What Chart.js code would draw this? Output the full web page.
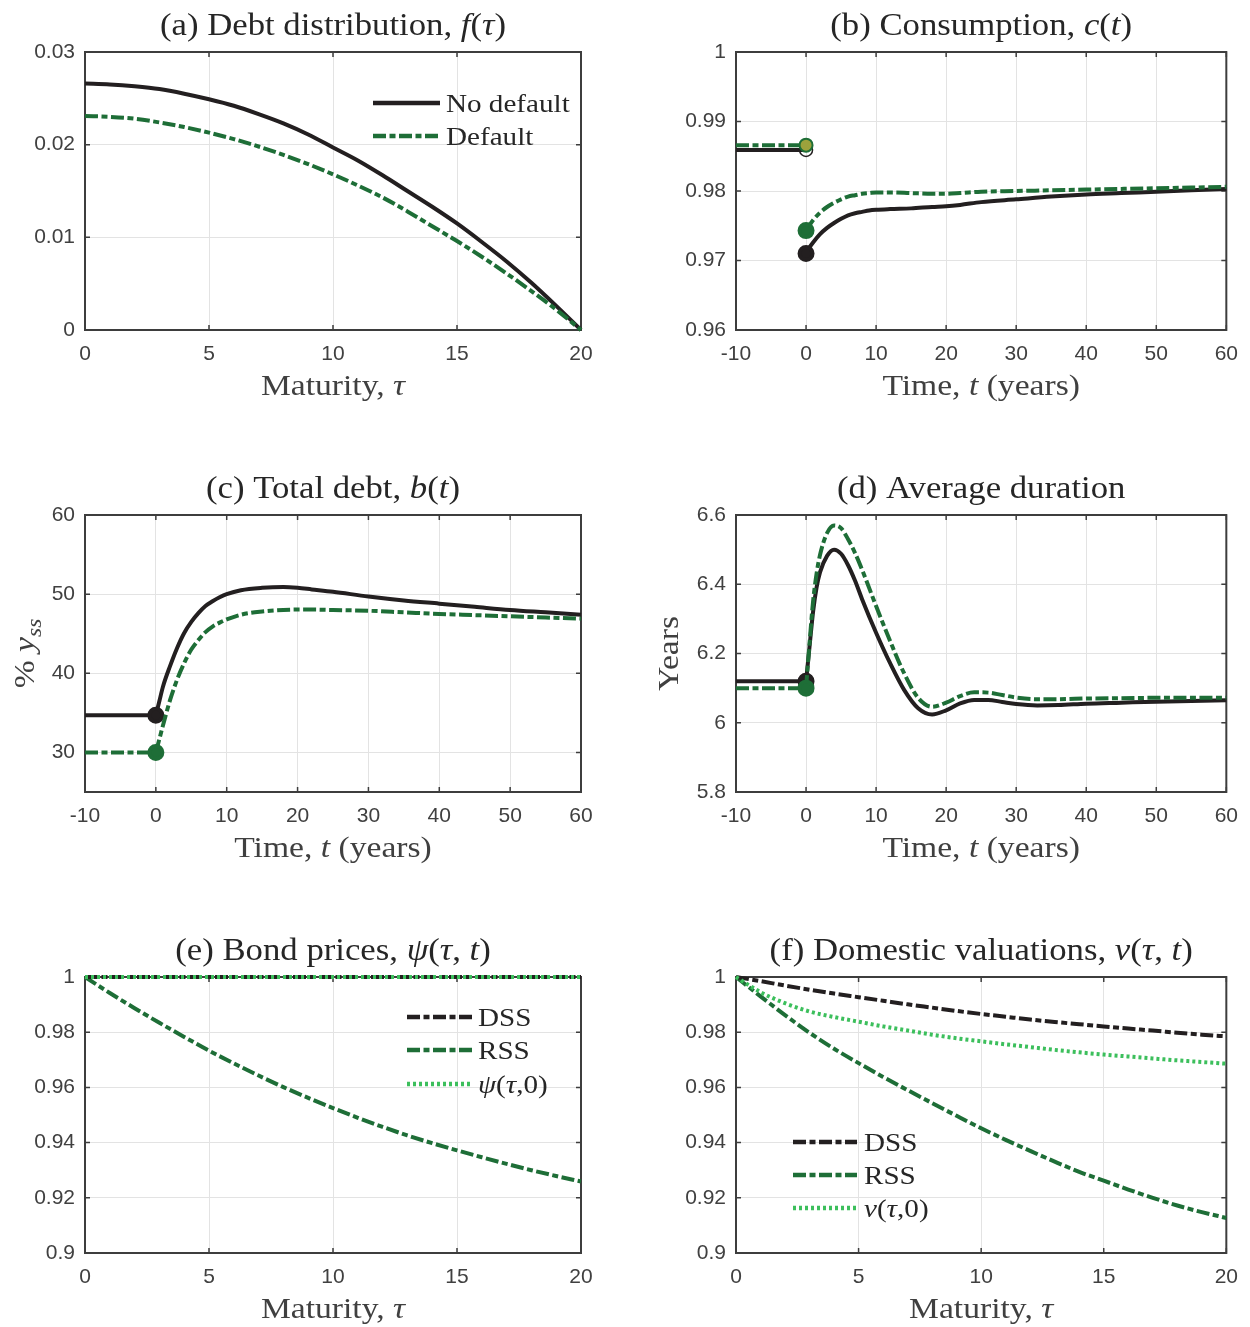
<!DOCTYPE html>
<html>
<head>
<meta charset="utf-8">
<title>Debt maturity panels</title>
<script src="https://cdn.jsdelivr.net/npm/chart.js@4.4.1/dist/chart.umd.min.js"></script>
<style>
  html, body { margin: 0; padding: 0; background: #fff; }
  #wrap { position: relative; width: 1250px; height: 1327px; }
  #wrap canvas { position: absolute; }
</style>
</head>
<body>
<div id="wrap">
  <canvas id="pa" width="625" height="440" style="left:0px;top:0px"></canvas>
  <canvas id="pb" width="625" height="440" style="left:625px;top:0px"></canvas>
  <canvas id="pc" width="625" height="465" style="left:0px;top:440px"></canvas>
  <canvas id="pd" width="625" height="465" style="left:625px;top:440px"></canvas>
  <canvas id="pe" width="625" height="422" style="left:0px;top:905px"></canvas>
  <canvas id="pf" width="625" height="422" style="left:625px;top:905px"></canvas>
</div>
<script>
// --- Datos ---
const tau = [0, 1, 2, 3, 4, 5, 6, 7, 8, 9, 10, 11, 12, 13, 14, 15, 16, 17, 18, 19, 20];
const tauTicks = [0, 5, 10, 15, 20];
const timeTicks = [-10, 0, 10, 20, 30, 40, 50, 60];

// (a) distribucion de deuda f(tau)
const fNoDefault = [0.0266, 0.0265, 0.0263, 0.0260, 0.0255, 0.0249, 0.0242, 0.0233, 0.0223, 0.0211, 0.0197,
                    0.0183, 0.0167, 0.0150, 0.0133, 0.0115, 0.0095, 0.0074, 0.0051, 0.0026, 0.0000];
const fDefault = [0.0231, 0.0230, 0.0228, 0.0224, 0.0219, 0.0213, 0.0206, 0.0198, 0.0189, 0.0179, 0.0168,
                  0.0156, 0.0143, 0.0128, 0.0112, 0.0096, 0.0079, 0.0061, 0.0042, 0.0022, 0.0000];
const yTicksA = [0, 0.01, 0.02, 0.03];

// tiempo antes / despues del choque
const tPre = [-10, 0];
const tPost = [0, 0.5, 1, 2, 3, 4, 5, 6, 7, 8, 9, 10, 12, 15, 18, 20, 22, 25, 30, 35, 40, 45, 50, 55, 60];
const tDur = [0, 0.5, 1, 1.5, 2, 3, 4, 5, 6, 7, 8, 10, 12, 14, 16, 18, 20, 22, 24, 26, 28, 30, 33, 36, 40, 45, 50, 55, 60];

// (b) consumo c(t)
const cPreNoDefault = [0.9859, 0.9859];
const cPreDefault = [0.9866, 0.9866];
const cNoDefault = [0.9710, 0.9719, 0.9726, 0.9738, 0.9747, 0.9754, 0.9760, 0.9765, 0.9768, 0.9770, 0.9772, 0.9773,
                    0.9774, 0.9775, 0.9777, 0.9778, 0.9780, 0.9784, 0.9788, 0.9792, 0.9795, 0.9797, 0.9799, 0.9801, 0.9803];
const cDefault = [0.9743, 0.9751, 0.9758, 0.9769, 0.9777, 0.9783, 0.9788, 0.9792, 0.9794, 0.9796, 0.9797, 0.9798,
                  0.9798, 0.9797, 0.9796, 0.9796, 0.9797, 0.9799, 0.9800, 0.9801, 0.9802, 0.9803, 0.9804, 0.9805, 0.9806];
const yTicksB = [0.96, 0.97, 0.98, 0.99, 1];

// (c) deuda total b(t)
const bPreNoDefault = [34.7, 34.7];
const bPreDefault = [30.0, 30.0];
const bNoDefault = [34.7, 36.5, 38.3, 40.9, 43.2, 45.1, 46.5, 47.6, 48.5, 49.1, 49.6, 50.0,
                    50.5, 50.8, 50.9, 50.8, 50.6, 50.3, 49.7, 49.2, 48.8, 48.4, 48.0, 47.7, 47.4];
const bDefault = [30.0, 31.7, 33.4, 36.6, 39.2, 41.3, 43.0, 44.2, 45.2, 45.9, 46.4, 46.8,
                  47.4, 47.8, 48.0, 48.05, 48.05, 48.0, 47.9, 47.7, 47.5, 47.35, 47.2, 47.05, 46.9];
const yTicksC = [30, 40, 50, 60];

// (d) duracion promedio
const dPreNoDefault = [6.12, 6.12];
const dPreDefault = [6.10, 6.10];
const dNoDefault = [6.120, 6.220, 6.320, 6.390, 6.435, 6.482, 6.500, 6.488, 6.455, 6.410, 6.357, 6.260, 6.172, 6.095, 6.042,
                    6.024, 6.036, 6.056, 6.066, 6.066, 6.060, 6.054, 6.050, 6.051, 6.055, 6.058, 6.061, 6.063, 6.065];
const dDefault = [6.100, 6.230, 6.350, 6.430, 6.485, 6.548, 6.570, 6.562, 6.530, 6.490, 6.442, 6.337, 6.236, 6.143, 6.072,
                  6.046, 6.058, 6.077, 6.088, 6.087, 6.080, 6.073, 6.068, 6.068, 6.070, 6.071, 6.072, 6.072, 6.072];
const yTicksD = [5.8, 6, 6.2, 6.4, 6.6];

// (e) precios de bonos
const psiDSS = [1, 1, 1, 1, 1, 1, 1, 1, 1, 1, 1, 1, 1, 1, 1, 1, 1, 1, 1, 1, 1];
const psiRSS = [1.0000, 0.9942, 0.9887, 0.9834, 0.9783, 0.9733, 0.9687, 0.9643, 0.9601, 0.9562, 0.9525,
                0.9490, 0.9457, 0.9426, 0.9398, 0.9372, 0.9347, 0.9323, 0.9300, 0.9279, 0.9259];
const psi0 = [1, 1, 1, 1, 1, 1, 1, 1, 1, 1, 1, 1, 1, 1, 1, 1, 1, 1, 1, 1, 1];

// (f) valuaciones domesticas
const vDSS = [1.0000, 0.9985, 0.9969, 0.9954, 0.9940, 0.9927, 0.9914, 0.9901, 0.9889, 0.9877, 0.9866,
              0.9856, 0.9846, 0.9837, 0.9829, 0.9821, 0.9813, 0.9806, 0.9798, 0.9791, 0.9785];
const vRSS = [1.0000, 0.9930, 0.9862, 0.9798, 0.9740, 0.9688, 0.9638, 0.9590, 0.9543, 0.9497, 0.9452,
              0.9410, 0.9370, 0.9331, 0.9294, 0.9262, 0.9230, 0.9200, 0.9172, 0.9148, 0.9127];
const v0 = [1.0000, 0.9945, 0.9905, 0.9875, 0.9855, 0.9838, 0.9821, 0.9806, 0.9791, 0.9778, 0.9767,
            0.9756, 0.9746, 0.9736, 0.9727, 0.9719, 0.9712, 0.9705, 0.9698, 0.9692, 0.9686];
const yTicksEF = [0.9, 0.92, 0.94, 0.96, 0.98, 1];

// --- Estilos ---
const BLACK = '#231f20';
const GREEN = '#1e6e37';
const LIGHT = '#3cbf5c';
const OLIVE = '#9ca23c';
const AXIS = '#3d3d3d';
const GRID = '#e3e3e3';
const TITLE_C = '#262626';
const LABEL_C = '#404040';
const DASHDOT = [13, 3.5, 6, 3.5];
const DOTTED = [3, 3];
const SERIF = '"Liberation Serif", "Times New Roman", serif';
const SX = 1.12; // estirar un poco la serif, parecida a Computer Modern

// texto con tramos en cursiva / subindice
function runFont(r, size) {
    const s = r.sub ? size * 0.7 : size;
    return (r.i ? 'italic ' : '') + s + 'px ' + SERIF;
}

function drawRich(ctx, runs, x, y, size, opts) {
    ctx.save();
    ctx.translate(x, y);
    if (opts.rotate) ctx.rotate(opts.rotate);
    ctx.scale(SX, 1);
    ctx.fillStyle = opts.color;
    ctx.textAlign = 'left';
    ctx.textBaseline = 'alphabetic';
    let w = 0;
    runs.forEach(r => { ctx.font = runFont(r, size); w += ctx.measureText(r.t).width; });
    let cx = opts.align === 'left' ? 0 : -w / 2;
    runs.forEach(r => {
        ctx.font = runFont(r, size);
        ctx.fillText(r.t, cx, r.sub ? size * 0.22 : 0);
        cx += ctx.measureText(r.t).width;
    });
    ctx.restore();
}

// caja, ticks hacia adentro, titulos y leyenda
const deco = {
    id: 'deco',
    beforeDatasetsDraw(chart) {
        const { ctx, chartArea: a, scales } = chart;
        ctx.save();
        ctx.strokeStyle = AXIS;
        ctx.lineWidth = 1.5;
        ctx.beginPath();
        scales.x.ticks.forEach(t => {
            const p = scales.x.getPixelForValue(t.value);
            ctx.moveTo(p, a.bottom); ctx.lineTo(p, a.bottom - 5);
            ctx.moveTo(p, a.top); ctx.lineTo(p, a.top + 5);
        });
        scales.y.ticks.forEach(t => {
            const p = scales.y.getPixelForValue(t.value);
            ctx.moveTo(a.left, p); ctx.lineTo(a.left + 5, p);
            ctx.moveTo(a.right, p); ctx.lineTo(a.right - 5, p);
        });
        ctx.stroke();
        ctx.lineWidth = 2;
        ctx.strokeRect(a.left, a.top, a.right - a.left, a.bottom - a.top);
        ctx.restore();
    },
    afterDraw(chart, args, o) {
        const { ctx, chartArea: a } = chart;
        const mid = (a.left + a.right) / 2;
        drawRich(ctx, o.title, mid, a.top - 17, 31, { color: TITLE_C });
        drawRich(ctx, o.xLabel, mid, a.bottom + 65, 30, { color: LABEL_C });
        if (o.yLabel) {
            drawRich(ctx, o.yLabel, a.left - o.yGap, (a.top + a.bottom) / 2, 30,
                     { color: LABEL_C, rotate: -Math.PI / 2 });
        }
        (o.legend || []).forEach(item => {
            const ds = chart.data.datasets[item.ds];
            const y = a.top + item.y;
            ctx.save();
            ctx.strokeStyle = ds.borderColor;
            ctx.lineWidth = 4.5;
            ctx.setLineDash(ds.borderDash || []);
            ctx.beginPath();
            ctx.moveTo(a.left + o.legendX[0], y);
            ctx.lineTo(a.left + o.legendX[1], y);
            ctx.stroke();
            ctx.restore();
            drawRich(ctx, item.text, a.left + o.legendX[2], y + 9, 26, { color: TITLE_C, align: 'left' });
        });
    }
};

function series(xs, ys, color, dash, extra) {
    return Object.assign({
        data: xs.map((x, i) => ({ x: x, y: ys[i] })),
        borderColor: color,
        backgroundColor: color,
        borderWidth: 4,
        borderDash: dash || [],
        borderCapStyle: 'butt',
        pointRadius: 0,
        pointHoverRadius: 0,
        pointHitRadius: 0,
        cubicInterpolationMode: 'monotone',
        clip: 6,
        fill: false
    }, extra || {});
}

const fmt = v => String(+Number(v).toFixed(4));

// box = [izq, arriba, der, abajo] del area de trazado dentro del canvas
function panel(id, box, xr, xTicks, yr, yTicks, datasets, deco_opts) {
    const cv = document.getElementById(id);
    const W = cv.width, H = cv.height;
    const tickFont = { family: '"Liberation Sans", Arial, sans-serif', size: 21 };
    return new Chart(cv, {
        type: 'line',
        data: { datasets: datasets },
        options: {
            responsive: false,
            animation: false,
            devicePixelRatio: 1,
            events: [],
            layout: { padding: { left: 0, top: box[1], right: W - box[2], bottom: 0 } },
            plugins: {
                legend: { display: false },
                tooltip: { enabled: false },
                deco: deco_opts
            },
            scales: {
                x: {
                    type: 'linear', min: xr[0], max: xr[1],
                    afterBuildTicks: s => { s.ticks = xTicks.map(v => ({ value: v })); },
                    afterFit: s => { s.height = H - box[3]; },
                    ticks: { autoSkip: false, maxRotation: 0, minRotation: 0, padding: 12,
                             color: LABEL_C, font: tickFont, callback: fmt },
                    grid: { color: GRID, lineWidth: 1, drawTicks: false },
                    border: { display: false }
                },
                y: {
                    type: 'linear', min: yr[0], max: yr[1],
                    afterBuildTicks: s => { s.ticks = yTicks.map(v => ({ value: v })); },
                    afterFit: s => { s.width = box[0]; },
                    ticks: { autoSkip: false, padding: 10, color: LABEL_C, font: tickFont, callback: fmt },
                    grid: { color: GRID, lineWidth: 1, drawTicks: false },
                    border: { display: false }
                }
            }
        },
        plugins: [deco]
    });
}

const dot = c => (c.dataIndex === 0 ? 6.5 : 0);
const endDot = c => (c.dataIndex === 1 ? 6.5 : 0);

const maturityLabel = [{ t: 'Maturity, ' }, { t: 'τ', i: 1 }];
const timeLabel = [{ t: 'Time, ' }, { t: 't', i: 1 }, { t: ' (years)' }];

// (a)
panel('pa', [85, 52, 581, 330], [0, 20], tauTicks, [0, 0.03], yTicksA, [
    series(tau, fNoDefault, BLACK, null, { label: 'No default', order: 2 }),
    series(tau, fDefault, GREEN, DASHDOT, { label: 'Default', order: 1 })
], {
    title: [{ t: '(a) Debt distribution, ' }, { t: 'f', i: 1 }, { t: '(' }, { t: 'τ', i: 1 }, { t: ')' }],
    xLabel: maturityLabel,
    legendX: [288, 355, 361],
    legend: [
        { ds: 0, y: 51, text: [{ t: 'No default' }] },
        { ds: 1, y: 84, text: [{ t: 'Default' }] }
    ]
});

// (b)
panel('pb', [111, 52, 606, 330], [-10, 60], timeTicks, [0.96, 1], yTicksB, [
    series(tPre, cPreNoDefault, BLACK, null, { order: 4, pointRadius: endDot, pointBorderWidth: 1.5,
        pointBackgroundColor: 'rgba(0,0,0,0)', pointBorderColor: BLACK }),
    series(tPre, cPreDefault, GREEN, DASHDOT, { order: 3, pointRadius: endDot, pointBorderWidth: 2,
        pointBackgroundColor: OLIVE, pointBorderColor: GREEN }),
    series(tPost, cNoDefault, BLACK, null, { order: 2, pointRadius: dot }),
    series(tPost, cDefault, GREEN, DASHDOT, { order: 1, pointRadius: dot })
], {
    title: [{ t: '(b) Consumption, ' }, { t: 'c', i: 1 }, { t: '(' }, { t: 't', i: 1 }, { t: ')' }],
    xLabel: timeLabel
});

// (c)
panel('pc', [85, 75, 581, 352], [-10, 60], timeTicks, [25, 60], yTicksC, [
    series(tPre, bPreNoDefault, BLACK, null, { order: 4 }),
    series(tPre, bPreDefault, GREEN, DASHDOT, { order: 3 }),
    series(tPost, bNoDefault, BLACK, null, { order: 2, pointRadius: dot }),
    series(tPost, bDefault, GREEN, DASHDOT, { order: 1, pointRadius: dot })
], {
    title: [{ t: '(c) Total debt, ' }, { t: 'b', i: 1 }, { t: '(' }, { t: 't', i: 1 }, { t: ')' }],
    xLabel: timeLabel,
    yLabel: [{ t: '% ' }, { t: 'y', i: 1 }, { t: 'ss', i: 1, sub: 1 }],
    yGap: 51
});

// (d)
panel('pd', [111, 75, 606, 352], [-10, 60], timeTicks, [5.8, 6.6], yTicksD, [
    series(tPre, dPreNoDefault, BLACK, null, { order: 4 }),
    series(tPre, dPreDefault, GREEN, DASHDOT, { order: 3 }),
    series(tDur, dNoDefault, BLACK, null, { order: 2, pointRadius: dot }),
    series(tDur, dDefault, GREEN, DASHDOT, { order: 1, pointRadius: dot })
], {
    title: [{ t: '(d) Average duration' }],
    xLabel: timeLabel,
    yLabel: [{ t: 'Years' }],
    yGap: 58
});

// (e)
panel('pe', [85, 72, 581, 348], [0, 20], tauTicks, [0.9, 1], yTicksEF, [
    series(tau, psiDSS, BLACK, DASHDOT, { label: 'DSS', order: 2 }),
    series(tau, psiRSS, GREEN, DASHDOT, { label: 'RSS', order: 3 }),
    series(tau, psi0, LIGHT, DOTTED, { label: 'psi0', order: 1 })
], {
    title: [{ t: '(e) Bond prices, ' }, { t: 'ψ', i: 1 }, { t: '(' }, { t: 'τ', i: 1 }, { t: ', ' }, { t: 't', i: 1 }, { t: ')' }],
    xLabel: maturityLabel,
    legendX: [322, 387, 393],
    legend: [
        { ds: 0, y: 40, text: [{ t: 'DSS' }] },
        { ds: 1, y: 73, text: [{ t: 'RSS' }] },
        { ds: 2, y: 107, text: [{ t: 'ψ', i: 1 }, { t: '(' }, { t: 'τ', i: 1 }, { t: ',0)' }] }
    ]
});

// (f)
panel('pf', [111, 72, 606, 348], [0, 20], tauTicks, [0.9, 1], yTicksEF, [
    series(tau, vDSS, BLACK, DASHDOT, { label: 'DSS', order: 2 }),
    series(tau, vRSS, GREEN, DASHDOT, { label: 'RSS', order: 3 }),
    series(tau, v0, LIGHT, DOTTED, { label: 'v0', order: 1 })
], {
    title: [{ t: '(f) Domestic valuations, ' }, { t: 'v', i: 1 }, { t: '(' }, { t: 'τ', i: 1 }, { t: ', ' }, { t: 't', i: 1 }, { t: ')' }],
    xLabel: maturityLabel,
    legendX: [57, 121, 128],
    legend: [
        { ds: 0, y: 165, text: [{ t: 'DSS' }] },
        { ds: 1, y: 198, text: [{ t: 'RSS' }] },
        { ds: 2, y: 231, text: [{ t: 'v', i: 1 }, { t: '(' }, { t: 'τ', i: 1 }, { t: ',0)' }] }
    ]
});
</script>
</body>
</html>
